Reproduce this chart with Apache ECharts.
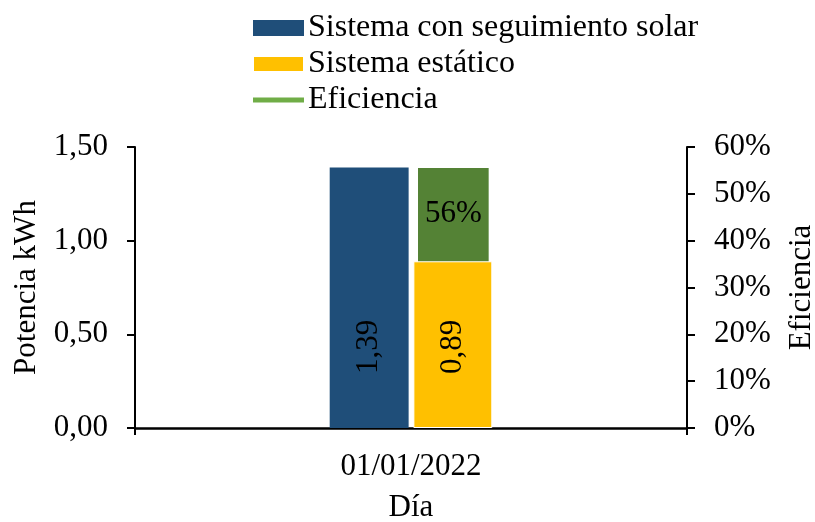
<!DOCTYPE html>
<html>
<head>
<meta charset="utf-8">
<script src="https://cdn.jsdelivr.net/npm/echarts@6/dist/echarts.min.js"></script>
<style>
  html, body { margin: 0; padding: 0; background: #fff; }
  #chart { width: 815px; height: 522px; }
</style>
</head>
<body>
<div id="chart"></div>
<script>
// datos
var dias = ['01/01/2022'];
var seguimiento = [1.39];
var estatico = [0.89];
var eficiencia = [0.555];
var ticksPotencia = [0, 0.5, 1.0, 1.5];
var ticksEficiencia = [0, 0.1, 0.2, 0.3, 0.4, 0.5, 0.6];

var fuente = '"Liberation Serif", "Times New Roman", serif';
var negro = '#000';

var chart = echarts.init(document.getElementById('chart'));

// etiqueta girada dentro de la barra
var etiquetaBarra = {
  show: true,
  position: 'insideBottom',
  rotate: 90,
  align: 'left',
  verticalAlign: 'middle',
  distance: 54,
  color: negro,
  fontFamily: fuente,
  fontSize: 31,
  formatter: function (p) { return p.value.toFixed(2).replace('.', ','); }
};

var option = {
  animation: false,
  textStyle: { fontFamily: fuente },
  legend: {
    orient: 'vertical',
    left: 252,
    top: 12,
    padding: 0,
    itemWidth: 51,
    itemHeight: 16,
    itemGap: 4,
    textStyle: { fontFamily: fuente, fontSize: 32, color: negro, lineHeight: 30, padding: [0, 0, 0, -1] },
    data: [
      { name: 'Sistema con seguimiento solar', icon: 'rect' },
      { name: 'Sistema estático', icon: 'rect' },
      { name: 'Eficiencia', icon: 'path://M0,0 L0,0 M0,5.5 L51,5.5 L51,10.5 L0,10.5 Z M51,16 L51,16', itemStyle: { color: '#70AD47' } }
    ]
  },
  grid: { left: 135, right: 128, top: 147, bottom: 94, outerBoundsMode: 'none', containLabel: false },
  xAxis: {
    type: 'category',
    data: dias,
    name: 'Día',
    nameLocation: 'middle',
    nameGap: 64,
    nameTextStyle: { fontFamily: fuente, fontSize: 31, color: negro },
    axisLine: { lineStyle: { color: negro, width: 2.5 } },
    axisTick: { show: true, length: 7, lineStyle: { color: negro, width: 2 } },
    axisLabel: { fontFamily: fuente, fontSize: 31, color: negro, margin: 23 }
  },
  yAxis: [
    {
      type: 'value',
      min: ticksPotencia[0],
      max: ticksPotencia[ticksPotencia.length - 1],
      interval: 0.5,
      name: 'Potencia kWh',
      nameLocation: 'middle',
      nameRotate: 90,
      nameGap: 82,
      nameTextStyle: { fontFamily: fuente, fontSize: 31, color: negro },
      axisLine: { show: true, lineStyle: { color: negro, width: 2 } },
      axisTick: { show: true, length: 8, lineStyle: { color: negro, width: 2 } },
      splitLine: { show: false },
      axisLabel: {
        fontFamily: fuente, fontSize: 31, color: negro, margin: 27,
        formatter: function (v) { return v.toFixed(2).replace('.', ','); }
      }
    },
    {
      type: 'value',
      position: 'right',
      min: ticksEficiencia[0],
      max: ticksEficiencia[ticksEficiencia.length - 1],
      interval: 0.1,
      name: 'Eficiencia',
      nameLocation: 'middle',
      nameRotate: 90,
      nameGap: 99,
      nameTextStyle: { fontFamily: fuente, fontSize: 31, color: negro },
      axisLine: { show: true, lineStyle: { color: negro, width: 2 } },
      axisTick: { show: true, length: 8, lineStyle: { color: negro, width: 2 } },
      splitLine: { show: false },
      axisLabel: {
        fontFamily: fuente, fontSize: 31, color: negro, margin: 27,
        formatter: function (v) { return Math.round(v * 100) + '%'; }
      }
    }
  ],
  series: [
    {
      name: 'Eficiencia',
      type: 'custom',
      yAxisIndex: 1,
      z: 1,
      itemStyle: { color: '#548235' },
      data: eficiencia.map(function (v, i) { return [i, v]; }),
      encode: { x: 0, y: 1 },
      renderItem: function (params, api) {
        var arriba = api.coord([api.value(0), api.value(1)]);
        var base = api.coord([api.value(0), 0]);
        var banda = api.size([1, 0])[0];
        var ancho = banda * 0.128;
        var cx = arriba[0] + banda * 0.0767;
        return {
          type: 'group',
          children: [
            {
              type: 'rect',
              shape: { x: cx - ancho / 2, y: arriba[1], width: ancho, height: base[1] - arriba[1] },
              style: { fill: '#548235' }
            },
            {
              type: 'text',
              x: cx,
              y: arriba[1] + 46,
              style: {
                text: Math.round(api.value(1) * 100) + '%',
                fill: negro,
                font: '31px ' + fuente,
                align: 'center',
                verticalAlign: 'middle'
              }
            }
          ]
        };
      }
    },
    {
      name: 'Sistema con seguimiento solar',
      type: 'bar',
      yAxisIndex: 0,
      z: 3,
      barWidth: '14.3%',
      barGap: '6%',
      itemStyle: { color: '#1F4E79' },
      label: etiquetaBarra,
      data: seguimiento
    },
    {
      name: 'Sistema estático',
      type: 'bar',
      yAxisIndex: 0,
      z: 3,
      barWidth: '14.3%',
      barGap: '6%',
      itemStyle: { color: '#FFC000', borderColor: '#fff', borderWidth: 1 },
      label: etiquetaBarra,
      data: estatico
    }
  ]
};

chart.setOption(option);
</script>
</body>
</html>
